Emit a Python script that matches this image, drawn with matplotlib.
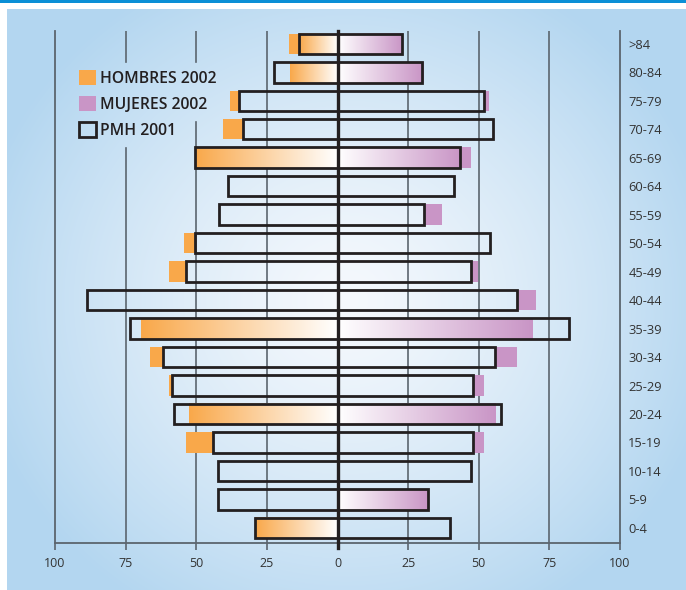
import numpy as np
import matplotlib
matplotlib.use("Agg")
import matplotlib.pyplot as plt
from matplotlib.patches import Patch, Rectangle
from matplotlib.colors import to_rgb

# Grupos de edad (de abajo a arriba)
edades = ["0-4", "5-9", "10-14", "15-19", "20-24", "25-29", "30-34", "35-39",
          "40-44", "45-49", "50-54", "55-59", "60-64", "65-69", "70-74",
          "75-79", "80-84", ">84"]

nan = np.nan
pmh_hombres  = [29.1, 42.4, 42.4, 43.9, 57.7, 58.5, 61.7, 73.4, 88.7, 53.8,
                50.5, 41.8, 38.6, 50.4, 33.3, 34.7, 22.5, 13.5]
hombres_2002 = [29.1, nan, nan, 53.8, 52.4, 59.5, 66.2, 69.6, nan, 59.5,
                54.2, nan, nan, 50.4, 40.4, 37.9, 16.7, 17.3]
pmh_mujeres  = [39.9, 32.0, 47.1, 47.9, 57.8, 47.9, 55.7, 82.1, 63.7, 47.1,
                53.9, 30.7, 41.3, 43.2, 55.1, 51.8, 30.0, 22.8]
mujeres_2002 = [nan, 32.0, nan, 51.9, 55.8, 51.9, 63.6, 68.9, 70.3, 49.8,
                nan, 37.0, nan, 47.2, nan, 53.6, 30.6, 22.8]
# filas con barra en degradado
destacado    = [1, 1, 0, 0, 1, 0, 0, 1, 0, 0, 0, 0, 0, 1, 0, 0, 1, 1]

ticks_x = [-100, -75, -50, -25, 0, 25, 50, 75, 100]
ticks_lbl = ["100", "75", "50", "25", "0", "25", "50", "75", "100"]
grid_x = [-75, -50, -25, 25, 50, 75]

NARANJA = "#f9a84a"
MORADO = "#c995c6"
OSCURO = "#231f20"
GRIS = "#5b656e"
W, H = 686, 590

plt.rcParams["font.family"] = ["Open Sans", "DejaVu Sans"]

fig = plt.figure(figsize=(W / 100, H / 100), dpi=100, facecolor="white")

# ── Fondo: panel azul con degradado radial ───────────────────
bg = fig.add_axes([7 / W, 0, (W - 7) / W, (H - 9) / H], zorder=-1)
pw, ph = W - 7, H - 9
yy, xx = np.mgrid[0:ph, 0:pw]
cx, cy = 345 - 7, 300 - 9
d = np.sqrt(((xx - cx) / 1.0) ** 2 + ((yy - cy) / 0.95) ** 2) / 380
s = np.clip(d, 0, 1) ** 1.25
c0 = np.array(to_rgb("#f6f9fd"))
c1 = np.array(to_rgb("#b3d6f0"))
img = c0 * (1 - s[..., None]) + c1 * s[..., None]
bg.imshow(img, aspect="auto", interpolation="bilinear")
bg.axis("off")

fig.add_artist(Rectangle((0, 1 - 2.5 / H), 1, 2.5 / H, transform=fig.transFigure,
                         color="#0a8fd6", lw=0))

# ── Ejes principales ─────────────────────────────────────────
ax = fig.add_axes([55 / W, 1 - 543 / H, 565 / W, 512 / H])
ax.patch.set_alpha(0)

y = np.arange(len(edades))
alto = 0.72


def degradado(ax, x0, x1, yc, color, invertir):
    t = np.linspace(0, 1, 256)
    if invertir:
        t = t[::-1]
    c = np.array(to_rgb(color))
    row = np.ones((1, 256, 3)) * (1 - t[None, :, None]) + c * t[None, :, None]
    ax.imshow(row, extent=(x0, x1, yc - alto / 2, yc + alto / 2),
              aspect="auto", interpolation="bilinear", zorder=3)


for i in range(len(edades)):
    h, ph_, m, pm = hombres_2002[i], pmh_hombres[i], mujeres_2002[i], pmh_mujeres[i]
    if not np.isnan(h):
        if destacado[i]:
            ax.barh(y[i], -h, height=alto, color=NARANJA, lw=0, zorder=2)
            degradado(ax, -min(h, ph_), 0, y[i], NARANJA, invertir=True)
        elif h > ph_:
            ax.barh(y[i], -(h - ph_), left=-ph_, height=alto, color=NARANJA, lw=0, zorder=2)
    if not np.isnan(m):
        if destacado[i]:
            ax.barh(y[i], m, height=alto, color=MORADO, lw=0, zorder=2)
            degradado(ax, 0, min(m, pm), y[i], MORADO, invertir=False)
        elif m > pm:
            ax.barh(y[i], m - pm, left=pm, height=alto, color=MORADO, lw=0, zorder=2)

# PMH 2001: cajas sin relleno
ax.barh(y, [-v for v in pmh_hombres], height=alto, fill=False,
        edgecolor=OSCURO, lw=2.0, zorder=4)
ax.barh(y, pmh_mujeres, height=alto, fill=False,
        edgecolor=OSCURO, lw=2.0, zorder=4)

ax.set_xlim(-100, 100)
ax.set_ylim(-0.53, 17.45)

ax.axvline(0, ymin=-5 / 512, ymax=1, color=OSCURO, lw=2.4, zorder=5, clip_on=False)

ax.spines["top"].set_visible(False)
for side in ["left", "right", "bottom"]:
    ax.spines[side].set_color(GRIS)
    ax.spines[side].set_linewidth(1.3)

ax.set_xticks(ticks_x)
ax.set_xticklabels(ticks_lbl)
ax.tick_params(axis="x", direction="out", length=5, width=1.2, color=GRIS,
               labelsize=9, labelcolor="#333333", pad=5)

ax.yaxis.tick_right()
ax.set_yticks(y)
ax.set_yticklabels(edades)
ax.tick_params(axis="y", length=0, labelsize=9.3, labelcolor="#333333", pad=6)

handles = [Patch(facecolor=NARANJA, edgecolor="none", label="HOMBRES 2002"),
           Patch(facecolor=MORADO, edgecolor="none", label="MUJERES 2002"),
           Patch(facecolor="none", edgecolor=OSCURO, lw=2, label="PMH 2001")]
leg = ax.legend(handles=handles, loc="upper left",
                bbox_to_anchor=(24 / 565, (543 - 70) / 512),
                frameon=False, handlelength=1.1, handleheight=1.1,
                handletextpad=0.25, labelspacing=0.58, borderpad=0,
                borderaxespad=0,
                prop={"size": 11.3, "weight": "semibold"})
for t in leg.get_texts():
    t.set_color(OSCURO)

# ── Rejilla: se interrumpe detrás de los textos de la leyenda ──
fig.canvas.draw()
inv = ax.transAxes.inverted()
cajas = [t.get_window_extent() for t in leg.get_texts()]
for gx in grid_x:
    xd = ax.transData.transform((gx, 0))[0]
    huecos = []
    for b in cajas:
        if b.x0 - 4 <= xd <= b.x1 + 4:
            huecos.append((b.y0 - 9, b.y1 + 9))
    huecos.sort()
    tramos = []
    for lo, hi in huecos:
        if tramos and lo <= tramos[-1][1]:
            tramos[-1][1] = max(tramos[-1][1], hi)
        else:
            tramos.append([lo, hi])
    cortes = [0.0]
    for lo, hi in tramos:
        cortes += [inv.transform((0, lo))[1], inv.transform((0, hi))[1]]
    cortes.append(1.0)
    for a, b in zip(cortes[::2], cortes[1::2]):
        ax.axvline(gx, ymin=a, ymax=b, color=GRIS, lw=1.2, zorder=1)

fig.savefig("out.png", dpi=100)
